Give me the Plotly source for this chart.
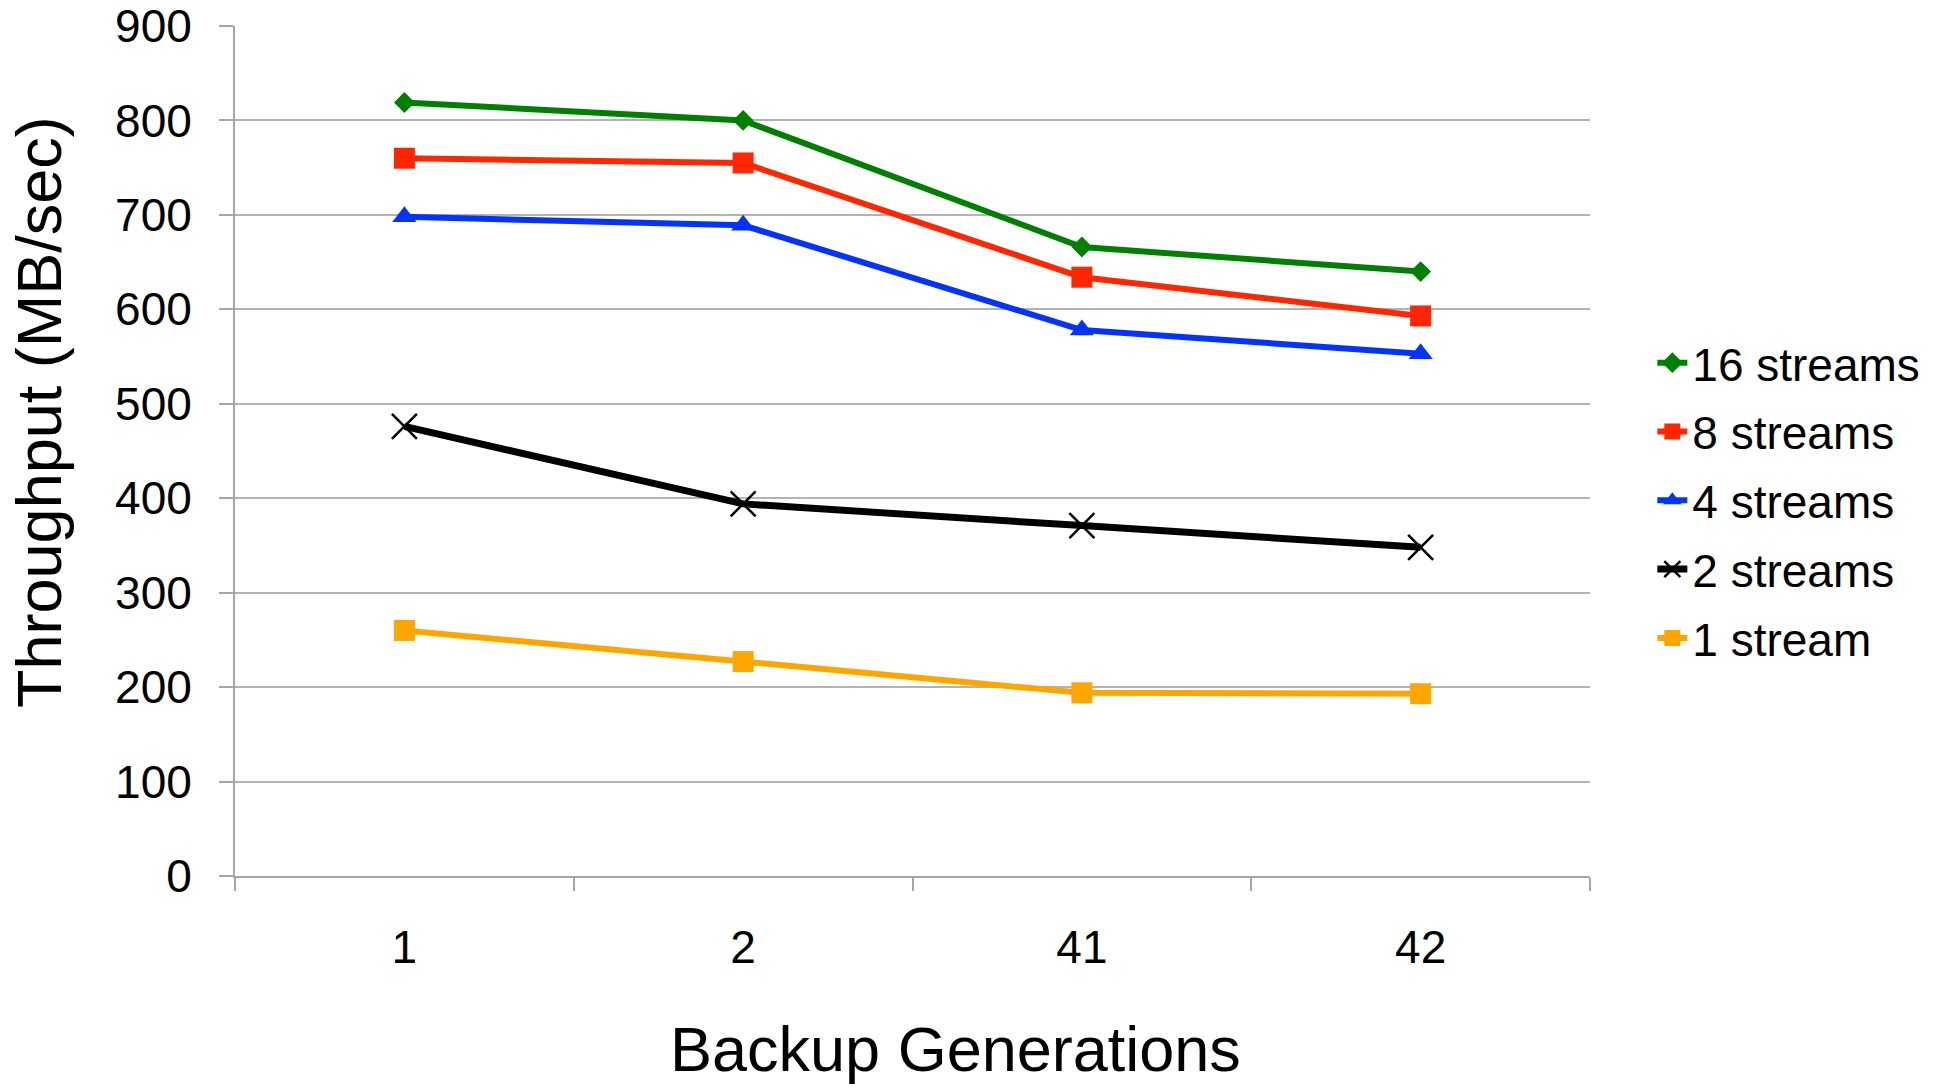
import plotly.graph_objects as go

generations = ["1", "2", "41", "42"]
s16 = [819, 800, 666, 640]
s8 = [760, 755, 634, 593]
s4 = [698, 689, 578, 553]
s2 = [476, 394, 371, 348]
s1 = [260, 227, 194, 193]

series = [
    ("16 streams", s16, "#008000", "diamond", 6, 16),
    ("8 streams", s8, "#FF2600", "square", 6, 21),
    ("4 streams", s4, "#0433FF", "triangle-up", 6, 21),
    ("2 streams", s2, "#000000", "x-thin", 7, 25),
    ("1 stream", s1, "#FFA500", "square", 6, 21),
]

fig = go.Figure()
for i, (name, vals, color, sym, lw, ms) in enumerate(series):
    marker = dict(symbol=sym, size=ms, color=color)
    if sym == "x-thin":
        marker["line"] = dict(color=color, width=2.5)
    fig.add_trace(go.Scatter(
        x=generations, y=vals, name=name, mode="lines+markers",
        line=dict(color=color, width=lw), marker=marker,
        legendgroup=name,
    ))

font = "Liberation Sans, Arial, sans-serif"
fig.update_layout(
    width=1946, height=1089,
    margin=dict(l=235, r=356, t=26, b=213, autoexpand=False),
    paper_bgcolor="white", plot_bgcolor="white",
    font=dict(family=font, color="black"),
    showlegend=True,
    legend=dict(x=1.046, y=0.442, yanchor="middle", xanchor="left",
                font=dict(size=46, family=font), tracegroupgap=6,
                bgcolor="rgba(0,0,0,0)"),
    xaxis=dict(
        type="category", range=[-0.5, 3.5], automargin=False,
        showgrid=False, showline=True, linecolor="#A6A6A6", linewidth=2,
        ticks="outside", tickson="boundaries", ticklen=13, tickcolor="#A6A6A6", tickwidth=2,
        tickfont=dict(size=46, family=font), ticklabelstandoff=30,
    ),
    yaxis=dict(
        range=[0, 900], tickvals=[0, 100, 200, 300, 400, 500, 600, 700, 800, 900],
        automargin=False,
        showgrid=True, gridcolor="#B3B3B3", gridwidth=2,
        showline=True, linecolor="#A6A6A6", linewidth=2, zeroline=False,
        ticks="outside", ticklen=14, tickcolor="#A6A6A6", tickwidth=2,
        tickfont=dict(size=46, family=font), ticklabelstandoff=18,
    ),
    annotations=[
        dict(text="Backup Generations", xref="paper", yref="paper",
             x=0.532, y=-0.2035, xanchor="center", yanchor="middle",
             showarrow=False, borderpad=0, font=dict(size=63, family=font, color="black")),
        dict(text="Throughput (MB/sec)", xref="paper", yref="paper",
             x=-0.1446, y=0.546, xanchor="center", yanchor="middle", textangle=-90,
             showarrow=False, font=dict(size=63, family=font, color="black")),
    ],
)

fig.write_html("out.html")
